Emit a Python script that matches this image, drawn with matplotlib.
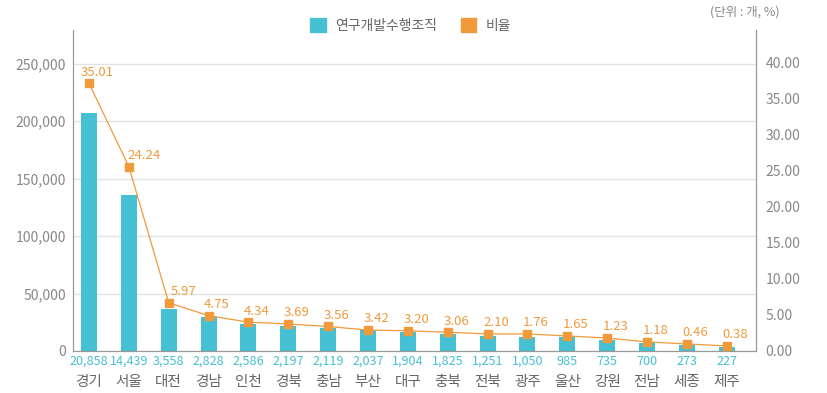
import matplotlib.pyplot as plt
import matplotlib.transforms as mtransforms
from matplotlib.patches import Patch

plt.rcParams['font.family'] = ['Noto Sans CJK KR', 'DejaVu Sans']

# Data
regions = ['경기', '서울', '대전', '경남', '인천', '경북', '충남', '부산', '대구',
           '충북', '전북', '광주', '울산', '강원', '전남', '세종', '제주']
org_labels = ['20,858', '14,439', '3,558', '2,828', '2,586', '2,197', '2,119', '2,037',
              '1,904', '1,825', '1,251', '1,050', '985', '735', '700', '273', '227']
bar_height = [207600, 135900, 36800, 29900, 23800, 22000, 20300, 18000, 16800,
              15100, 13300, 12500, 11900, 9600, 7200, 5200, 3500]
ratio_labels = ['35.01', '24.24', '5.97', '4.75', '4.34', '3.69', '3.56', '3.42', '3.20',
                '3.06', '2.10', '1.76', '1.65', '1.23', '1.18', '0.46', '0.38']
ratio_pos = [37.2, 25.6, 6.7, 4.9, 4.0, 3.75, 3.4, 2.9, 2.8,
             2.6, 2.36, 2.36, 2.08, 1.8, 1.25, 0.97, 0.7]

teal = '#46c0d3'
orange = '#f09a3c'
gray = '#888888'

fig = plt.figure(figsize=(8.27, 3.93), dpi=100)
ax = fig.add_axes([0.0883, 0.107, 0.8257, 0.817])
ax2 = ax.twinx()

x = list(range(len(regions)))
ax.bar(x, bar_height, width=0.4, color=teal, zorder=2)
ax.set_xlim(-0.4, 16.73)
ax.set_ylim(0, 279600)
ax.set_yticks([0, 50000, 100000, 150000, 200000, 250000])
ax.set_yticklabels(['0', '50,000', '100,000', '150,000', '200,000', '250,000'])
ax.grid(axis='y', color='#e3e3e3', lw=1, zorder=0)
ax.set_xticks([])

ax2.plot(x, ratio_pos, color=orange, lw=0.9, marker='s', ms=6, zorder=3)
ax2.set_ylim(0, 44.6)
ax2.set_yticks([0, 5, 10, 15, 20, 25, 30, 35, 40])
ax2.set_yticklabels(['%.2f' % v for v in [0, 5, 10, 15, 20, 25, 30, 35, 40]])

for a in (ax, ax2):
    a.tick_params(length=0, labelsize=10, labelcolor=gray)
    a.spines['top'].set_visible(False)
    for s in ('left', 'right', 'bottom'):
        a.spines[s].set_color('#999999')
ax.tick_params(axis='y', pad=5)
ax2.tick_params(axis='y', pad=7)

for i, lab in enumerate(ratio_labels):
    dx = 6 if i < 1 else (11 if i < 3 else 6)
    ax2.annotate(lab, (i, ratio_pos[i]), xytext=(dx, 8), textcoords='offset points',
                 ha='center', va='center', fontsize=9.5, color=orange)

trans = mtransforms.blended_transform_factory(ax.transData, ax.transAxes)
for i in x:
    ax.text(i, -0.012, org_labels[i], transform=trans, ha='center', va='top',
            fontsize=9.1, color=teal)
    ax.text(i, -0.075, regions[i], transform=trans, ha='center', va='top',
            fontsize=10.5, color='#666666')

handles = [Patch(color=teal), Patch(color=orange)]
fig.legend(handles, ['연구개발수행조직', '비율'], loc='upper center',
           bbox_to_anchor=(0.497, 0.985), ncol=2, frameon=False, fontsize=10,
           labelcolor='#666666', handlelength=1.1, handleheight=1.1,
           columnspacing=1.7, handletextpad=0.7)
fig.text(0.943, 0.97, '(단위 : 개, %)', ha='right', va='center', fontsize=9, color=gray)

fig.savefig('out.png', dpi=100)
